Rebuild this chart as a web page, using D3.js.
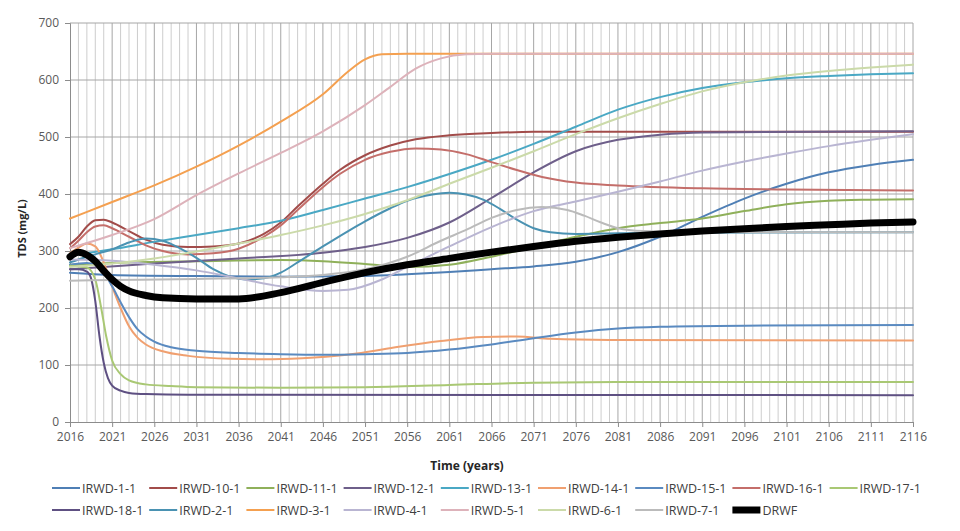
<!DOCTYPE html>
<html>
<head>
<meta charset="utf-8">
<script src="https://cdn.jsdelivr.net/npm/d3@7"></script>
<style>
  html, body { margin: 0; padding: 0; background: #fff; }
  svg { display: block; font-family: "Open Sans", "Liberation Sans", sans-serif; }
</style>
</head>
<body>
<svg id="chart" width="960" height="531"></svg>
<script>
// ---------------- data ----------------
const seriesNames = ["IRWD-1-1","IRWD-10-1","IRWD-11-1","IRWD-12-1","IRWD-13-1","IRWD-14-1","IRWD-15-1","IRWD-16-1","IRWD-17-1",
                     "IRWD-18-1","IRWD-2-1","IRWD-3-1","IRWD-4-1","IRWD-5-1","IRWD-6-1","IRWD-7-1","DRWF"];
const seriesColors = ["#4f7fb5","#a24c4a","#8fb05a","#6e5f8a","#4aa8c4","#f0a070","#5a8ac0","#c46e6a","#a9c874",
                      "#5e5082","#4a92b2","#f4a050","#b9b5d2","#ddb2ba","#cbdaa9","#bbbbbb","#000000"];
const yTicks = [0,100,200,300,400,500,600,700];
const xTickYears = d3.range(2016, 2117, 5);

const irwd_1_1  = [[2016,262],[2021,258],[2031,256],[2041,255],[2051,256],[2056,259],[2061,263],[2066,268],[2071,273],[2076,281],[2081,298],[2086,325],[2091,360],[2096,392],[2101,418],[2106,438],[2111,451],[2116,460]];
const irwd_10_1 = [[2016,312],[2017,325],[2018,343],[2019,354],[2020,355],[2021,350],[2023,335],[2025,320],[2027,311],[2030,307],[2033,308],[2036,313],[2039,330],[2041,350],[2043,378],[2046,418],[2048,442],[2051,468],[2054,485],[2057,496],[2061,503],[2066,507],[2071,509],[2081,509],[2116,509]];
const irwd_11_1 = [[2016,276],[2021,279],[2031,282],[2041,284],[2046,282],[2051,277],[2056,272],[2061,276],[2066,290],[2071,307],[2076,325],[2081,340],[2086,349],[2091,357],[2096,370],[2101,382],[2106,388],[2111,390],[2116,391]];
const irwd_12_1 = [[2016,268],[2026,278],[2036,287],[2046,297],[2051,307],[2056,323],[2061,350],[2066,393],[2071,438],[2076,475],[2081,495],[2086,504],[2091,508],[2116,510]];
const irwd_13_1 = [[2016,292],[2021,303],[2026,316],[2031,328],[2036,340],[2041,353],[2046,372],[2051,392],[2056,412],[2061,435],[2066,460],[2071,488],[2076,518],[2081,548],[2086,570],[2091,586],[2096,596],[2101,603],[2106,607],[2111,610],[2116,612]];
const irwd_14_1 = [[2016,296],[2017,306],[2018,313],[2019,308],[2020,280],[2021,238],[2022,200],[2023,168],[2024,148],[2025,136],[2027,124],[2030,116],[2035,111],[2040,110],[2045,113],[2050,120],[2055,132],[2060,142],[2065,149],[2069,150],[2073,146],[2080,144],[2116,143]];
const irwd_15_1 = [[2016,276],[2018,279],[2019,276],[2020,262],[2021,238],[2022,210],[2023,184],[2024,163],[2025,150],[2026,141],[2028,131],[2031,125],[2036,121],[2041,119],[2046,118],[2051,119],[2056,121],[2061,127],[2066,136],[2071,147],[2076,157],[2081,164],[2086,167],[2096,169],[2116,170]];
const irwd_16_1 = [[2016,305],[2017,318],[2018,333],[2019,343],[2020,345],[2021,340],[2023,325],[2025,310],[2027,300],[2030,294],[2033,296],[2036,304],[2039,325],[2041,345],[2043,372],[2046,412],[2048,435],[2051,460],[2054,474],[2057,480],[2060,478],[2063,470],[2066,456],[2069,442],[2072,430],[2076,420],[2081,415],[2091,410],[2101,408],[2116,406]];
const irwd_17_1 = [[2016,274],[2018,271],[2019,250],[2019.7,200],[2020.3,150],[2021,108],[2022,84],[2023,73],[2025,66],[2028,63],[2031,61],[2041,60],[2051,61],[2061,65],[2071,69],[2081,70],[2116,70]];
const irwd_18_1 = [[2016,268],[2017,268],[2018,264],[2018.5,252],[2019,212],[2019.5,150],[2020,104],[2020.5,77],[2021,64],[2022,55],[2023,51],[2025,49],[2030,48],[2116,47]];
const irwd_2_1  = [[2016,280],[2018,290],[2021,303],[2023,315],[2025,322],[2027,318],[2029,305],[2031,288],[2033,268],[2035,255],[2037,250],[2039,252],[2041,262],[2043,280],[2046,308],[2049,335],[2051,352],[2054,375],[2056,388],[2059,399],[2061,402],[2063,399],[2065,390],[2067,374],[2069,355],[2071,340],[2073,333],[2076,330],[2081,331],[2091,332],[2116,333]];
const irwd_3_1  = [[2016,357],[2021,386],[2026,415],[2031,448],[2036,485],[2041,527],[2046,575],[2049,615],[2051,636],[2053,645],[2056,646],[2116,646]];
const irwd_4_1  = [[2016,285],[2021,283],[2026,276],[2031,266],[2036,252],[2041,238],[2046,230],[2049,232],[2053,250],[2056,272],[2061,308],[2066,342],[2071,370],[2076,387],[2081,404],[2086,422],[2091,441],[2096,457],[2101,471],[2106,484],[2111,495],[2116,505]];
const irwd_5_1  = [[2016,305],[2021,328],[2026,356],[2031,398],[2036,436],[2041,472],[2046,510],[2051,556],[2054,588],[2057,620],[2060,638],[2063,645],[2066,646],[2116,646]];
const irwd_6_1  = [[2016,272],[2021,278],[2026,287],[2031,299],[2036,313],[2041,328],[2046,345],[2051,365],[2056,389],[2061,418],[2066,446],[2071,475],[2076,505],[2081,533],[2086,558],[2091,580],[2096,596],[2101,608],[2106,616],[2111,622],[2116,627]];
const irwd_7_1  = [[2016,248],[2021,249],[2031,251],[2041,254],[2046,258],[2051,268],[2056,290],[2060,318],[2063,337],[2066,358],[2069,372],[2072,377],[2075,372],[2077,362],[2079,350],[2081,340],[2084,335],[2090,333],[2116,333]];
const drwf      = [[2016,290],[2017,298],[2018,293],[2019,282],[2020,265],[2021,250],[2022,238],[2023,230],[2025,222],[2027,218],[2031,216],[2036,216],[2041,227],[2046,245],[2051,262],[2056,276],[2061,287],[2066,298],[2071,308],[2076,317],[2081,324],[2086,330],[2091,335],[2096,339],[2101,343],[2106,346],[2111,349],[2116,351]];

const seriesData = [irwd_1_1, irwd_10_1, irwd_11_1, irwd_12_1, irwd_13_1, irwd_14_1, irwd_15_1, irwd_16_1, irwd_17_1,
                    irwd_18_1, irwd_2_1, irwd_3_1, irwd_4_1, irwd_5_1, irwd_6_1, irwd_7_1, drwf];

// ---------------- drawing ----------------
const svg = d3.select("#chart");
const pLeft = 70, pRight = 913, pTop = 23, pBottom = 422;

const x = d3.scaleLinear().domain([2016, 2116]).range([pLeft, pRight]);
const y = d3.scaleLinear().domain([0, 700]).range([pBottom, pTop]);

// grid: yearly minor verticals, 5-year major verticals, horizontal every 100
const grid = svg.append("g");
grid.append("g").selectAll("line").data(d3.range(2017, 2116).filter(v => (v - 2016) % 5 !== 0)).join("line")
  .attr("x1", d => x(d)).attr("x2", d => x(d)).attr("y1", pTop).attr("y2", pBottom)
  .attr("stroke", "#cdcdcd").attr("stroke-width", 1);
grid.append("g").selectAll("line").data(xTickYears.slice(1)).join("line")
  .attr("x1", d => x(d)).attr("x2", d => x(d)).attr("y1", pTop).attr("y2", pBottom)
  .attr("stroke", "#a6a6a6").attr("stroke-width", 1);
grid.append("g").selectAll("line").data(yTicks.slice(1)).join("line")
  .attr("x1", pLeft).attr("x2", pRight).attr("y1", d => y(d)).attr("y2", d => y(d))
  .attr("stroke", "#a6a6a6").attr("stroke-width", 1);

// axes
const xAxis = d3.axisBottom(x).tickValues(xTickYears).tickFormat(d3.format("d")).tickSize(5).tickPadding(5);
const yAxis = d3.axisLeft(y).tickValues(yTicks).tickSize(5).tickPadding(6);
const gx = svg.append("g").attr("transform", `translate(0,${pBottom})`).call(xAxis);
const gy = svg.append("g").attr("transform", `translate(${pLeft},0)`).call(yAxis);
[gx, gy].forEach(g => {
  g.select(".domain").attr("stroke", "#8c8c8c");
  g.selectAll(".tick line").attr("stroke", "#8c8c8c");
  g.selectAll(".tick text").attr("fill", "#595959").style("font-size", "12px")
   .style("font-family", "'Open Sans', sans-serif");
});

// lines
const line = d3.line().x(d => x(d[0])).y(d => y(d[1])).curve(d3.curveMonotoneX);
const order = d3.range(seriesData.length);
svg.append("g").selectAll("path").data(order).join("path")
  .attr("d", i => line(seriesData[i]))
  .attr("fill", "none")
  .attr("stroke", i => seriesColors[i])
  .attr("stroke-width", i => seriesNames[i] === "DRWF" ? 7 : 2)
  .attr("stroke-linejoin", "round").attr("stroke-linecap", "round");

// axis titles
svg.append("text").attr("transform", `translate(26,${(pTop + pBottom) / 2 + 6}) rotate(-90)`)
  .attr("text-anchor", "middle").attr("fill", "#262626")
  .style("font-size", "11px").style("font-weight", "bold").text("TDS (mg/L)");
svg.append("text").attr("x", 467).attr("y", 470).attr("text-anchor", "middle").attr("fill", "#262626")
  .style("font-size", "12px").style("font-weight", "bold").text("Time (years)");

// legend: 2 rows, 9 columns
const legend = svg.append("g");
const colW = 97.2, legX0 = 52, rowY = [488, 510];
seriesNames.forEach((name, i) => {
  const r = i < 9 ? 0 : 1, c = i < 9 ? i : i - 9;
  const lx = legX0 + c * colW;
  const g = legend.append("g");
  g.append("line").attr("x1", lx).attr("x2", lx + 28).attr("y1", rowY[r]).attr("y2", rowY[r])
    .attr("stroke", seriesColors[i]).attr("stroke-width", name === "DRWF" ? 7 : 2);
  g.append("text").attr("x", lx + 30).attr("y", rowY[r] + 4.5).attr("fill", "#404040")
    .style("font-size", "12.5px").text(name);
});
</script>
</body>
</html>
